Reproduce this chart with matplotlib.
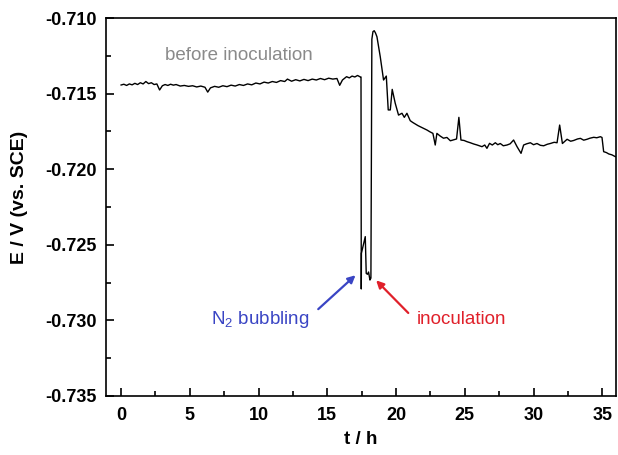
import numpy as np
import matplotlib
matplotlib.use("Agg")
import matplotlib.pyplot as plt
from matplotlib.ticker import MultipleLocator

plt.rcParams['font.family'] = ['Liberation Sans', 'DejaVu Sans']
plt.rcParams['mathtext.fontset'] = 'custom'
plt.rcParams['mathtext.rm'] = 'Liberation Sans'
plt.rcParams['mathtext.it'] = 'Liberation Sans:italic'

# open circuit potential, before inoculation (t in h, E in V vs SCE)
t_before = [0.0, 0.2, 0.4, 0.6, 0.8, 1.0, 1.2, 1.4, 1.6, 1.8, 2.0, 2.2, 2.4, 2.6,
            2.8, 3.0, 3.2, 3.4, 3.6, 3.8, 4.0, 4.3, 4.6, 4.9, 5.2, 5.5, 5.8, 6.1,
            6.3, 6.5, 6.8, 7.1, 7.4, 7.7, 8.0, 8.3, 8.6, 8.9, 9.2, 9.5, 9.8, 10.1,
            10.4, 10.7, 11.0, 11.3, 11.6, 11.9, 12.1, 12.4, 12.7, 13.0, 13.3, 13.6,
            13.9, 14.2, 14.5, 14.8, 15.1, 15.4, 15.7, 15.9, 16.1, 16.4, 16.6, 16.8,
            17.0, 17.2, 17.4, 17.45]
E_before = [-0.71443, -0.71438, -0.71446, -0.71436, -0.71442, -0.71432, -0.71440,
            -0.71428, -0.71436, -0.71420, -0.71434, -0.71428, -0.71440, -0.71436,
            -0.71476, -0.71448, -0.71440, -0.71446, -0.71438, -0.71444, -0.71440,
            -0.71450, -0.71446, -0.71452, -0.71448, -0.71456, -0.71450, -0.71458,
            -0.71490, -0.71462, -0.71452, -0.71458, -0.71448, -0.71454, -0.71444,
            -0.71450, -0.71440, -0.71446, -0.71436, -0.71442, -0.71430, -0.71436,
            -0.71424, -0.71430, -0.71420, -0.71426, -0.71414, -0.71420, -0.71404,
            -0.71418, -0.71408, -0.71416, -0.71406, -0.71414, -0.71404, -0.71410,
            -0.71400, -0.71408, -0.71398, -0.71404, -0.71400, -0.71445, -0.71410,
            -0.71388, -0.71396, -0.71384, -0.71390, -0.71380, -0.71390, -0.71390]

# N2 bubbling and inoculation
t_mid = [17.47, 17.48, 17.62, 17.76, 17.83, 17.92, 18.0, 18.1, 18.17]
E_mid = [-0.72792, -0.72556, -0.72500, -0.72446, -0.72689, -0.72695, -0.72680,
         -0.72733, -0.72720]

# after inoculation
t_after = [18.2, 18.24, 18.32, 18.41, 18.5, 18.61, 18.85, 19.09, 19.29, 19.43, 19.58,
           19.72, 19.94, 20.18, 20.43, 20.6, 20.79, 21.03, 21.2, 21.4, 21.6, 21.76,
           22.0, 22.25, 22.45, 22.68, 22.85, 22.97, 23.2, 23.45, 23.7, 23.95, 24.19,
           24.4, 24.57, 24.72, 24.95, 25.16, 25.4, 25.64, 25.9, 26.25, 26.45, 26.61,
           26.8, 27.0, 27.22, 27.4, 27.58, 27.8, 28.07, 28.3, 28.55, 28.8, 29.09,
           29.28, 29.5, 29.77, 30.0, 30.25, 30.5, 30.74, 31.0, 31.22, 31.5, 31.71,
           31.9, 32.1, 32.44, 32.7, 32.92, 33.2, 33.41, 33.65, 33.89, 34.1, 34.38,
           34.6, 34.86, 34.98, 35.1, 35.3, 35.47, 35.7, 35.95]
E_after = [-0.72000, -0.71140, -0.71090, -0.71084, -0.71098, -0.71124, -0.71256,
           -0.71410, -0.71384, -0.71608, -0.71608, -0.71472, -0.71564, -0.71642,
           -0.71630, -0.71657, -0.71630, -0.71679, -0.71690, -0.71701, -0.71712,
           -0.71719, -0.71730, -0.71741, -0.71752, -0.71763, -0.71840, -0.71763,
           -0.71780, -0.71795, -0.71790, -0.71812, -0.71806, -0.71800, -0.71657,
           -0.71807, -0.71810, -0.71818, -0.71825, -0.71833, -0.71840, -0.71851,
           -0.71840, -0.71862, -0.71829, -0.71840, -0.71825, -0.71838, -0.71830,
           -0.71845, -0.71840, -0.71832, -0.71807, -0.71851, -0.71895, -0.71840,
           -0.71832, -0.71825, -0.71838, -0.71830, -0.71842, -0.71845, -0.71835,
           -0.71830, -0.71822, -0.71825, -0.71708, -0.71830, -0.71802, -0.71815,
           -0.71810, -0.71800, -0.71796, -0.71808, -0.71802, -0.71795, -0.71789,
           -0.71792, -0.71785, -0.71790, -0.71884, -0.71890, -0.71899, -0.71905,
           -0.71917]

t = t_before + t_mid + t_after
E = E_before + E_mid + E_after

fig = plt.figure(figsize=(6.18, 4.55), dpi=100)
ax = fig.add_axes([0.1715, 0.1297, 0.8253, 0.8307])
ax.plot(t, E, color='black', lw=1.0)

ax.set_xlim(-1.1, 36.0)
ax.set_ylim(-0.735, -0.710)
ax.xaxis.set_major_locator(MultipleLocator(5))
ax.xaxis.set_minor_locator(MultipleLocator(2.5))
ax.yaxis.set_major_locator(MultipleLocator(0.005))
ax.yaxis.set_minor_locator(MultipleLocator(0.0025))
ax.yaxis.set_major_formatter(matplotlib.ticker.FormatStrFormatter('%.3f'))
ax.tick_params(which='both', direction='in', top=False, right=False, width=1.2)
ax.tick_params(which='major', length=6, labelsize=13, pad=7)
ax.tick_params(axis='x', which='major', pad=8)
ax.tick_params(which='minor', length=3.5)
for lab in ax.get_xticklabels() + ax.get_yticklabels():
    lab.set_fontweight('bold')
for s in ax.spines.values():
    s.set_linewidth(1.2)

ax.set_xlabel('t / h', fontsize=13.5, fontweight='bold', labelpad=5)
ax.set_ylabel('E / V (vs. SCE)', fontsize=14, fontweight='bold')
ax.yaxis.set_label_coords(-0.153, 0.526)

ax.text(8.59, -0.71251, 'before inoculation', color='#8a8a8a', fontsize=13.5,
        ha='center', va='center')
ax.text(13.7, -0.72997, 'N$_2$ bubbling', color='#3a45c4', fontsize=13.5,
        ha='right', va='center')
ax.text(21.5, -0.72997, 'inoculation', color='#e0202a', fontsize=13.5,
        ha='left', va='center')
ax.annotate('', xy=(17.2, -0.72689), xytext=(14.19, -0.72938),
            arrowprops=dict(arrowstyle='-|>', color='#3a45c4', lw=1.6, mutation_scale=11))
ax.annotate('', xy=(18.41, -0.72722), xytext=(21.03, -0.72964),
            arrowprops=dict(arrowstyle='-|>', color='#e0202a', lw=1.6, mutation_scale=11))

plt.savefig('out.png', dpi=100)
